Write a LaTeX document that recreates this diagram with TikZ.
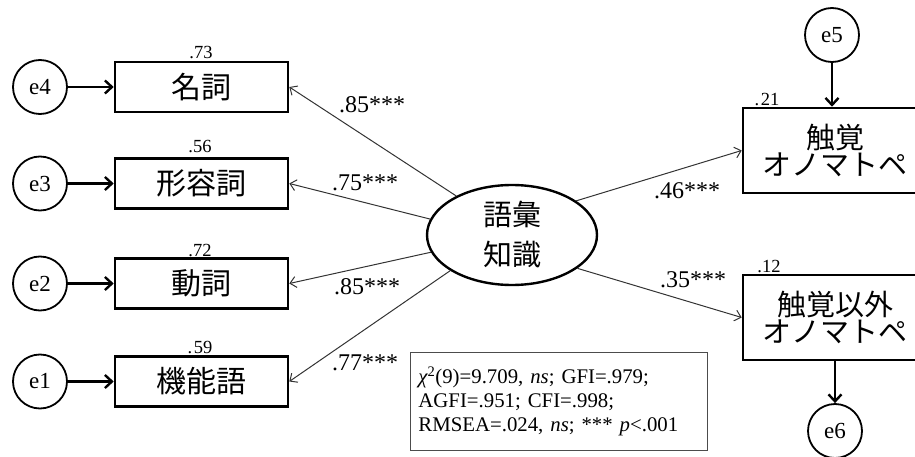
\documentclass[tikz,border=0pt]{standalone}
\usepackage{fontspec}
\setmainfont{Liberation Serif}
\newfontfamily\jp{Noto Sans CJK JP}
\usetikzlibrary{arrows.meta,shapes.geometric}

\begin{document}
\begin{tikzpicture}[x=1pt,y=-1pt,
  obs/.style={draw,line width=2.6pt,minimum width=173pt,minimum height=50pt,
    inner sep=0pt,font=\jp\fontsize{30}{30}\selectfont},
  outc/.style={draw,line width=2.6pt,minimum width=184pt,minimum height=85pt,
    inner sep=0pt,align=center,font=\jp\fontsize{29}{27}\selectfont},
  err/.style={draw,circle,line width=1.8pt,minimum size=54pt,inner sep=0pt,
    font=\fontsize{23}{23}\selectfont},
  lat/.style={draw,ellipse,line width=2.4pt,minimum width=170pt,minimum height=100pt,
    inner sep=0pt,align=center,font=\jp\fontsize{29}{40}\selectfont},
  rsq/.style={inner sep=0pt,font=\fontsize{18.5}{18.5}\selectfont},
  coef/.style={inner sep=0pt,font=\fontsize{24}{24}\selectfont},
  errarrow/.style={line width=2.4pt,-{Straight Barb[length=7pt,width=13pt]}},
  patharrow/.style={line width=1pt,black!80,-{Straight Barb[length=6pt,width=11pt]}}
]
\useasboundingbox (0,0) rectangle (915,457);

% observed indicators
\node[obs] (noun) at (201.5,87) {名詞};
\node[obs] (adj)  at (201.5,183.5) {形容詞};
\node[obs] (verb) at (201.5,283.5) {動詞};
\node[obs] (func) at (201.5,381.5) {機能語};

% error terms of the indicators
\node[err] (e4) at (40,87) {e4};
\node[err] (e3) at (40,183.5) {e3};
\node[err] (e2) at (40,283.5) {e2};
\node[err] (e1) at (40,381.5) {e1};

\draw[errarrow] (e4) -- (noun);
\draw[errarrow] (e3) -- (adj);
\draw[errarrow] (e2) -- (verb);
\draw[errarrow] (e1) -- (func);

% squared multiple correlations
\node[rsq] (r4) at (201,53) {.73};
\node[rsq] (r3) at (200,147) {.56};
\node[rsq] (r2) at (200,251) {.72};
\node[rsq] (r1) at (200,348) {.\kern1.5pt59};

% latent factor
\node[lat] (vk) at (512,235) {語彙\\知識};

% outcome variables
\node[outc] (tact)  at (835,150.5) {触覚\\オノマトペ};
\node[outc] (other) at (835,317.5) {触覚以外\\オノマトペ};
\node[rsq] (r5) at (767,100) {.\kern1.5pt21};
\node[rsq] (r6) at (769,267) {.12};

\node[err] (e5) at (832,35) {e5};
\node[err] (e6) at (835,431) {e6};
\draw[errarrow] (e5) -- (e5 |- tact.north);
\draw[errarrow] (other.south) -- (e6);

% factor loadings and paths
\draw[patharrow] (vk.145) -- (noun.east);
\draw[patharrow] (vk.169) -- (adj.east);
\draw[patharrow] (vk.192) -- (verb.east);
\draw[patharrow] (vk.210) -- (func.east);
\draw[patharrow] (vk.28.5) -- (tact.west);
\draw[patharrow] (vk.-27) -- (other.west);

\node[coef] (l4) at (372,105) {.85***};
\node[coef] (l3) at (365,183) {.75***};
\node[coef] (l2) at (367,287) {.85***};
\node[coef] (l1) at (365,363) {.77***};
\node[coef] (l5) at (687,191) {.46***};
\node[coef] (l6) at (693,280) {.35***};

% fit indices
\node[draw,black!70,line width=0.9pt,anchor=north west,text=black,
  text width=281pt,inner xsep=8pt,inner ysep=0pt,minimum height=98pt,align=left,
  font=\fontsize{20.8}{24}\selectfont] (fit) at (410,352)
  {{\itshape χ}\textsuperscript{2}(9)=9.709, \textit{ns}; GFI=.979;\\
   AGFI=.951; CFI=.998;\\
   RMSEA=.024, \textit{ns}; *** \textit{p}<.001};
\end{tikzpicture}
\end{document}
